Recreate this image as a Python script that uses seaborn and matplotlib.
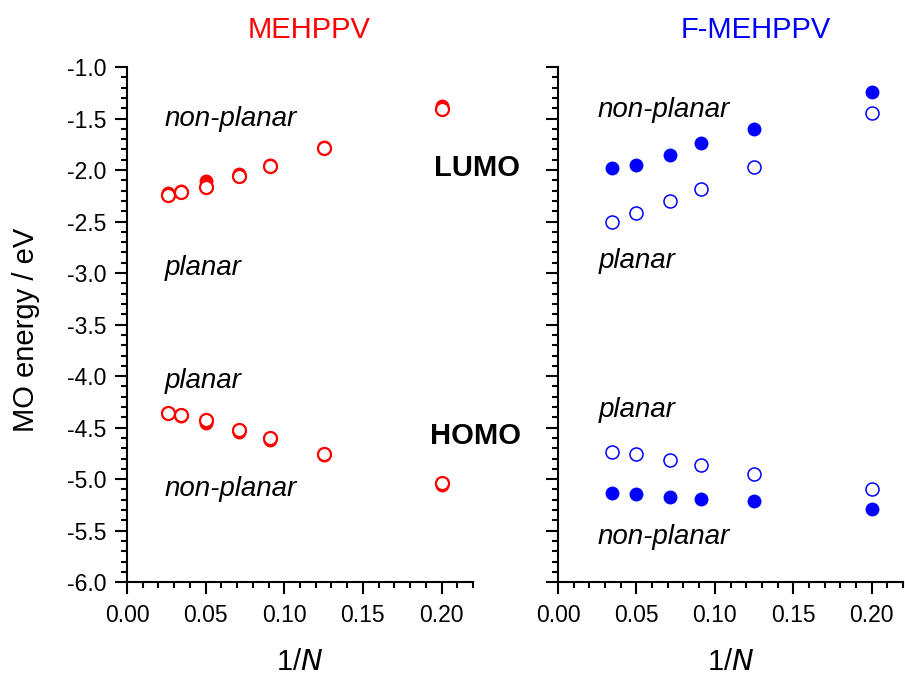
import matplotlib
matplotlib.use("Agg")
import matplotlib.pyplot as plt
import seaborn as sns
from matplotlib.ticker import MultipleLocator, FormatStrFormatter

# 1/N of the oligomers
inv_n_meh = [1/38, 1/29, 1/20, 1/14, 1/11, 1/8, 1/5]
inv_n_f = [1/29, 1/20, 1/14, 1/11, 1/8, 1/5]

# MEHPPV orbital energies (eV)
meh_lumo_nonplanar = [-2.22, -2.20, -2.11, -2.04, -1.95, -1.78, -1.38]
meh_lumo_planar = [-2.24, -2.21, -2.16, -2.06, -1.96, -1.79, -1.41]
meh_homo_planar = [-4.36, -4.38, -4.43, -4.52, -4.60, -4.76, -5.04]
meh_homo_nonplanar = [-4.36, -4.39, -4.45, -4.54, -4.62, -4.77, -5.06]

# F-MEHPPV orbital energies (eV)
f_lumo_nonplanar = [-1.98, -1.95, -1.85, -1.74, -1.60, -1.24]
f_lumo_planar = [-2.50, -2.42, -2.30, -2.18, -1.97, -1.45]
f_homo_planar = [-4.74, -4.76, -4.81, -4.86, -4.95, -5.10]
f_homo_nonplanar = [-5.13, -5.14, -5.17, -5.19, -5.21, -5.29]

sns.set_style("ticks")
plt.rcParams["font.family"] = ["Liberation Sans", "DejaVu Sans"]
plt.rcParams["text.color"] = "black"
plt.rcParams["axes.labelcolor"] = "black"
plt.rcParams["xtick.color"] = "black"
plt.rcParams["ytick.color"] = "black"

fig = plt.figure(figsize=(9.05, 6.77), dpi=100)
ax1 = fig.add_axes([0.1403, 0.1400, 0.3823, 0.7610])
ax2 = fig.add_axes([0.6166, 0.1400, 0.3812, 0.7610])

# MEHPPV: filled (non-planar) under open (planar)
for y in [meh_lumo_nonplanar, meh_homo_nonplanar]:
    sns.scatterplot(x=inv_n_meh, y=y, ax=ax1, s=100, color="red", linewidth=0, zorder=3)
for y in [meh_lumo_planar, meh_homo_planar]:
    sns.scatterplot(x=inv_n_meh, y=y, ax=ax1, s=88, color="white", edgecolor="red",
                    linewidth=1.6, zorder=4)

# F-MEHPPV
for y in [f_lumo_nonplanar, f_homo_nonplanar]:
    sns.scatterplot(x=inv_n_f, y=y, ax=ax2, s=100, color="blue", linewidth=0, zorder=3)
for y in [f_lumo_planar, f_homo_planar]:
    sns.scatterplot(x=inv_n_f, y=y, ax=ax2, s=88, color="white", edgecolor="blue",
                    linewidth=1.1, zorder=4)

for ax in (ax1, ax2):
    ax.set_xlim(0, 0.22)
    ax.set_ylim(-6.0, -1.0)
    ax.xaxis.set_major_locator(MultipleLocator(0.05))
    ax.xaxis.set_minor_locator(MultipleLocator(0.01))
    ax.yaxis.set_major_locator(MultipleLocator(0.5))
    ax.yaxis.set_minor_locator(MultipleLocator(0.1))
    ax.xaxis.set_major_formatter(FormatStrFormatter("%.2f"))
    ax.yaxis.set_major_formatter(FormatStrFormatter("%.1f"))
    for s in ["top", "right"]:
        ax.spines[s].set_visible(False)
    for s in ["left", "bottom"]:
        ax.spines[s].set_linewidth(1.5)
        ax.spines[s].set_color("black")
    ax.tick_params(which="major", length=8.5, width=1.5, labelsize=16.5)
    ax.tick_params(which="minor", length=4.3, width=1.5)
    ax.tick_params(axis="x", which="major", pad=7.5)
    ax.tick_params(axis="y", which="major", pad=6.5)
    ax.text(0.5, -0.155, "1/$\\mathit{N}$", transform=ax.transAxes, ha="center",
            va="center", fontsize=21)
    ax.set_xlabel("")
    ax.set_ylabel("")

ax2.set_yticklabels([])
fig.text(26 / 905, 1 - 330 / 677, "MO energy / eV", rotation=90, ha="center",
         va="center", fontsize=21)

ax1.text(0.526, 1.072, "MEHPPV", transform=ax1.transAxes, ha="center", va="center",
         fontsize=21, color="red")
ax2.text(0.574, 1.072, "F-MEHPPV", transform=ax2.transAxes, ha="center", va="center",
         fontsize=21, color="blue")

lab = dict(fontsize=20, style="italic", va="center", ha="left")
ax1.text(0.024, -1.50, "non-planar", **lab)
ax1.text(0.024, -2.95, "planar", **lab)
ax1.text(0.024, -4.05, "planar", **lab)
ax1.text(0.024, -5.10, "non-planar", **lab)
ax1.text(0.195, -1.98, "LUMO", fontsize=21, fontweight="bold", va="center", ha="left",
         clip_on=False)
ax1.text(0.193, -4.58, "HOMO", fontsize=21, fontweight="bold", va="center", ha="left",
         clip_on=False)
ax2.text(0.025, -1.42, "non-planar", **lab)
ax2.text(0.026, -2.88, "planar", **lab)
ax2.text(0.026, -4.33, "planar", **lab)
ax2.text(0.025, -5.56, "non-planar", **lab)

fig.savefig("out.png", dpi=100)
